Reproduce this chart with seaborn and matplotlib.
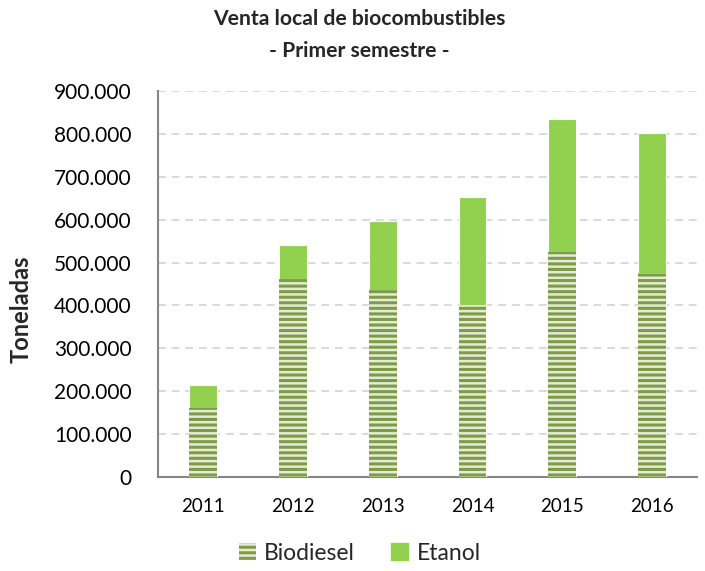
import matplotlib
matplotlib.use("Agg")
import matplotlib.pyplot as plt
import seaborn as sns
import pandas as pd
from matplotlib.patches import Patch
from matplotlib.ticker import FuncFormatter, MultipleLocator

years = ["2011", "2012", "2013", "2014", "2015", "2016"]
biodiesel = [161000, 462000, 436000, 401000, 525000, 475000]
etanol = [53000, 79000, 161000, 252000, 310000, 327000]

sns.set_theme(style="white")
plt.rcParams["font.family"] = ["Lato", "DejaVu Sans"]
plt.rcParams["hatch.linewidth"] = 2.2

totals = [b + e for b, e in zip(biodiesel, etanol)]
df = pd.DataFrame({"year": years, "biodiesel": biodiesel, "total": totals})

fig = plt.figure(figsize=(7.05, 5.71), dpi=100)
ax = fig.add_axes([0.224, 0.1646, 0.765, 0.676])

etanol_color = "#92d050"
bio_face = "#e4ecd4"
bio_hatch = "#7f9b4a"

sns.barplot(data=df, x="year", y="total", color=etanol_color, width=0.31,
            edgecolor="white", linewidth=0.8, saturation=1, ax=ax, zorder=3)
sns.barplot(data=df, x="year", y="biodiesel", color=bio_face, width=0.31,
            edgecolor=bio_hatch, linewidth=0, hatch="---", saturation=1,
            ax=ax, zorder=4)

ax.set_ylim(0, 900000)
ax.yaxis.set_major_locator(MultipleLocator(100000))
ax.yaxis.set_major_formatter(FuncFormatter(lambda v, p: f"{int(v):,}".replace(",", ".")))
ax.yaxis.grid(True, color="#d9d9d9", linestyle=(0, (4, 3)), linewidth=1.4, zorder=0)
ax.xaxis.grid(False)
ax.set_axisbelow(True)

for s in ["top", "right"]:
    ax.spines[s].set_visible(False)
for s in ["left", "bottom"]:
    ax.spines[s].set_color("#868686")
    ax.spines[s].set_linewidth(1.5)

ax.tick_params(axis="y", labelsize=15, length=0, pad=19, colors="black")
ax.tick_params(axis="x", labelsize=13.5, length=0, pad=15, colors="black")
ax.set_xlabel("")
ax.set_ylabel("Toneladas", fontsize=17, fontweight="bold")
ax.yaxis.set_label_coords(-0.232, 0.435)

fig.text(0.51, 0.967, "Venta local de biocombustibles", ha="center", va="center",
         fontsize=15.2, fontweight="bold")
fig.text(0.51, 0.91, "- Primer semestre -", ha="center", va="center",
         fontsize=15.2, fontweight="bold")

handles = [Patch(facecolor=bio_face, edgecolor=bio_hatch, linewidth=0, hatch="---", label="Biodiesel"),
           Patch(facecolor=etanol_color, edgecolor=etanol_color, label="Etanol")]
fig.legend(handles=handles, loc="center", bbox_to_anchor=(0.51, 0.031), ncol=2,
           frameon=False, fontsize=16.5, handlelength=0.75, handleheight=0.75,
           handletextpad=0.35, columnspacing=1.6)

fig.savefig("out.png", dpi=100)
